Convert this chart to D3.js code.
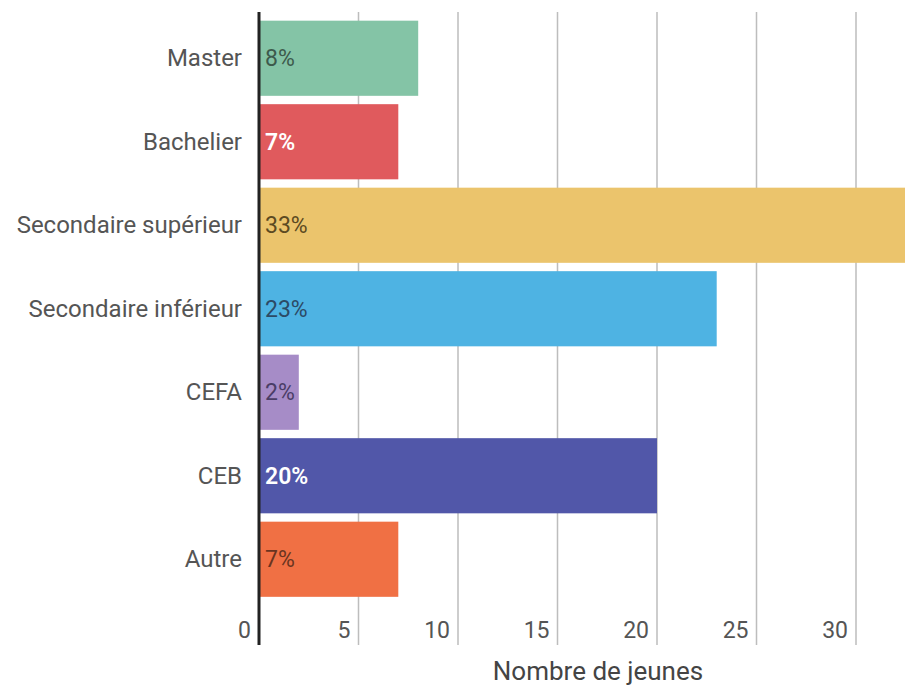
<!DOCTYPE html>
<html>
<head>
<meta charset="utf-8">
<script src="https://cdn.jsdelivr.net/npm/d3@7/dist/d3.min.js"></script>
<style>
  html, body { margin: 0; padding: 0; background: #fff; }
  svg { display: block; font-family: Roboto, "Noto Sans", sans-serif; }
</style>
</head>
<body>
<svg id="chart" width="905" height="688"></svg>
<script>
const categories = ["Master", "Bachelier", "Secondaire supérieur", "Secondaire inférieur", "CEFA", "CEB", "Autre"];
const values = [8, 7, 33, 23, 2, 20, 7];
const valueLabels = ["8%", "7%", "33%", "23%", "2%", "20%", "7%"];
const barColors = ["#84c4a6", "#e05a5d", "#ebc46c", "#4eb3e3", "#a68cc7", "#5157a9", "#f07044"];
const labelColors = ["#3d5a4c", "#ffffff", "#5c4a22", "#2c4a66", "#4a3d66", "#ffffff", "#6a3420"];
const tickValues = [0, 5, 10, 15, 20, 25, 30];
const axisTitle = "Nombre de jeunes";

const svg = d3.select("#chart");

const x = d3.scaleLinear().domain([0, 35]).range([259, 259 + 35 * 19.9]);
const y = d3.scaleBand().domain(categories).range([16.5, 601]).paddingInner(0.1).paddingOuter(0.05);

const gridTop = 12, gridBottom = 645;

// grid lines
svg.append("g").selectAll("line")
  .data(tickValues.filter(d => d !== 0))
  .join("line")
  .attr("x1", d => x(d)).attr("x2", d => x(d))
  .attr("y1", gridTop).attr("y2", gridBottom)
  .attr("stroke", "#bdbdbd").attr("stroke-width", 1.5);

// bars
svg.append("g").selectAll("rect")
  .data(categories)
  .join("rect")
  .attr("x", x(0))
  .attr("y", d => y(d))
  .attr("width", (d, i) => x(values[i]) - x(0))
  .attr("height", y.bandwidth())
  .attr("fill", (d, i) => barColors[i]);

// zero line
svg.append("line")
  .attr("x1", x(0)).attr("x2", x(0))
  .attr("y1", gridTop).attr("y2", gridBottom)
  .attr("stroke", "#222").attr("stroke-width", 3);

// value labels
svg.append("g").selectAll("text")
  .data(categories)
  .join("text")
  .attr("x", x(0) + 6)
  .attr("y", d => y(d) + y.bandwidth() / 2)
  .attr("dy", "0.34em")
  .attr("font-size", 23)
  .attr("font-weight", (d, i) => labelColors[i] === "#ffffff" ? 600 : 400)
  .attr("fill", (d, i) => labelColors[i])
  .text((d, i) => valueLabels[i]);

// category labels
svg.append("g").selectAll("text")
  .data(categories)
  .join("text")
  .attr("x", 242)
  .attr("y", d => y(d) + y.bandwidth() / 2)
  .attr("dy", "0.34em")
  .attr("text-anchor", "end")
  .attr("font-size", 24)
  .attr("fill", "#555")
  .text(d => d);

// tick labels
svg.append("g").selectAll("text")
  .data(tickValues)
  .join("text")
  .attr("x", d => x(d) - 8)
  .attr("y", 630)
  .attr("dy", "0.36em")
  .attr("text-anchor", "end")
  .attr("font-size", 23)
  .attr("fill", "#555")
  .text(d => d);

// axis title
svg.append("text")
  .attr("x", 598)
  .attr("y", 671)
  .attr("dy", "0.36em")
  .attr("text-anchor", "middle")
  .attr("font-size", 26)
  .attr("fill", "#444")
  .text(axisTitle);
</script>
</body>
</html>
